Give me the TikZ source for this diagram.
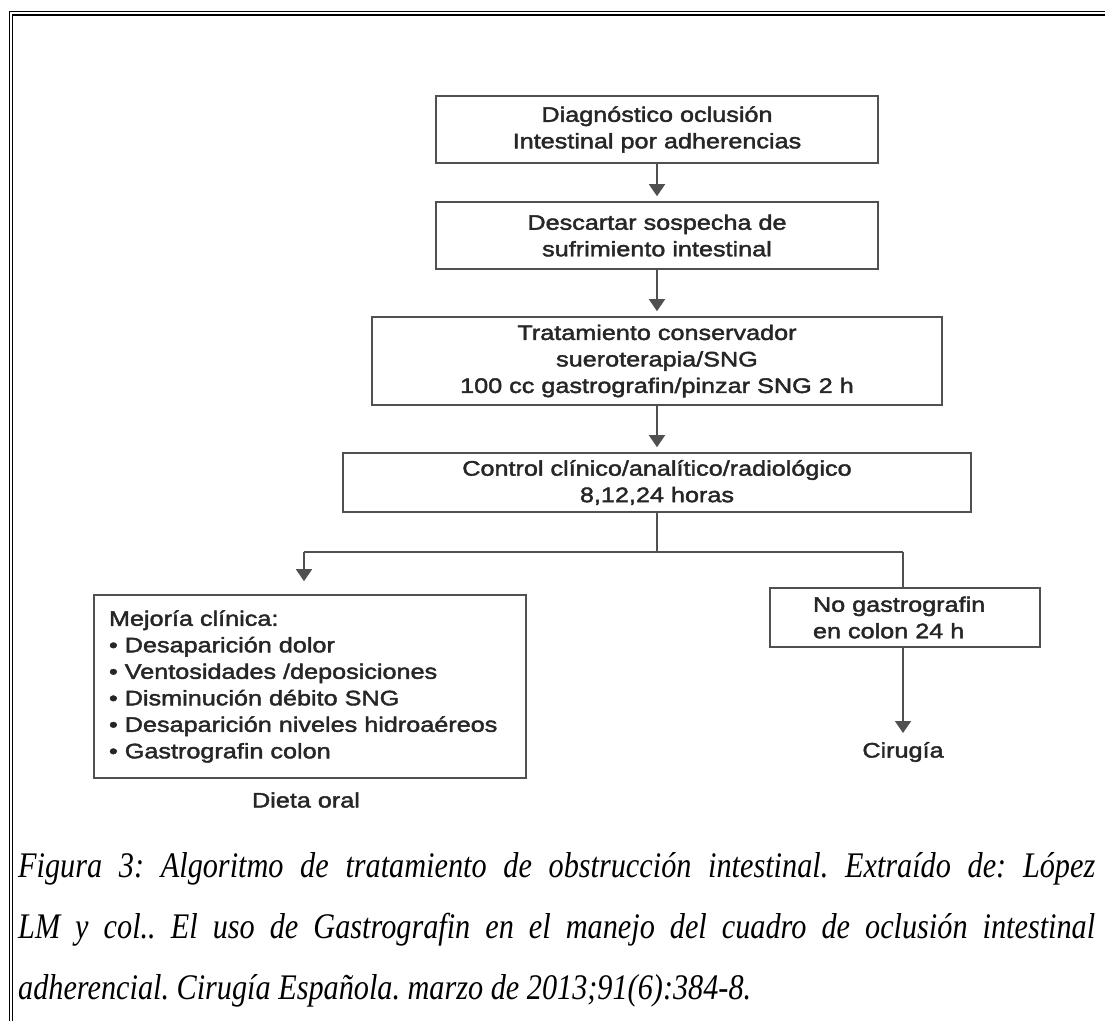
\documentclass[tikz,border=0pt]{standalone}
\usepackage{fontspec}
\setmainfont{Liberation Sans}
\newfontfamily\diagfont[FakeStretch=1.2,FakeBold=2]{Liberation Sans}
\newfontfamily\capfont[FakeStretch=0.84]{Liberation Serif}
\usetikzlibrary{arrows.meta}
\definecolor{linegray}{HTML}{505050}
\definecolor{txtgray}{HTML}{262626}
\frenchspacing

\begin{document}
\begin{tikzpicture}[
  box/.style={draw=linegray,line width=1.6bp,inner sep=0pt,text=txtgray,align=center,font=\diagfont\fontsize{21bp}{26.5bp}\selectfont},
  lbl/.style={inner sep=0pt,text=txtgray,font=\diagfont\fontsize{21bp}{26.5bp}\selectfont},
  ln/.style={draw=linegray,line width=1.6bp},
  arr/.style={ln,-{Triangle[width=16bp,length=12bp]},shorten >=5bp},
  frame/.style={draw=black,line width=1.5bp}]

\useasboundingbox (0,0) rectangle (1105bp,-1021bp);
\draw [frame] (1105bp,-11.5bp) -| (9.5bp,-1021bp);
\draw [frame] (1105bp,-14.8bp) -| (12.6bp,-1021bp);

\node (Diag) at (657bp,-129.5bp)[box,minimum width=442bp,minimum height=67bp] {Diagnóstico oclusión\\Intestinal por adherencias};
\node (Desc) at (657bp,-235.5bp)[box,minimum width=442bp,minimum height=67bp] {Descartar sospecha de\\sufrimiento intestinal};
\node (Trat) at (657bp,-361bp)[box,minimum width=570bp,minimum height=88bp] {Tratamiento conservador\\sueroterapia/SNG\\100 cc gastrografin/pinzar SNG 2 h};
\node (Ctrl) at (657bp,-482.5bp)[box,minimum width=628bp,minimum height=59bp] {Control clínico/analítico/radiológico\\8,12,24 horas};
\node (Mej) at (310bp,-686.5bp)[box,align=left,text width=402bp,minimum width=432bp,minimum height=183bp] {Mejoría clínica:\\• Desaparición dolor\\• Ventosidades /deposiciones\\• Disminución débito SNG\\• Desaparición niveles hidroaéreos\\• Gastrografin colon};
\node (NoG) at (905bp,-617.5bp)[box,align=left,text width=184bp,minimum width=270bp,minimum height=59bp] {No gastrografin\\en colon 24 h};
\node (Cir) at (903bp,-752bp)[lbl] {Cirugía};
\node (Diet) at (306bp,-800bp)[lbl] {Dieta oral};

\coordinate (sp) at (657bp,-552bp);
\coordinate (lft) at (304bp,-552bp);
\coordinate (rgt) at (903bp,-552bp);

\draw [arr] (Diag) to (Desc);
\draw [arr] (Desc) to (Trat);
\draw [arr] (Trat) to (Ctrl);
\draw [ln] (Ctrl.south) to (sp);
\draw [ln] (lft) to (rgt);
\draw [arr,shorten >=13bp] (lft) to (lft |- Mej.north);
\draw [ln] (rgt) to (rgt |- NoG.north);
\draw [arr,shorten >=19bp] (NoG.south -| Cir) to (Cir.center);

\node (Cap) at (18bp,-852bp)[anchor=north west,inner sep=0pt,text width=1077bp,align=justify,font=\capfont\itshape\fontsize{36bp}{61bp}\selectfont] {Figura 3: Algoritmo de tratamiento de obstrucción intestinal. Extraído de: López\linebreak LM y col.. El uso de Gastrografin en el manejo del cuadro de oclusión intestinal\linebreak adherencial. Cirugía Española. marzo de 2013;91(6):384-8.};
\end{tikzpicture}
\end{document}
